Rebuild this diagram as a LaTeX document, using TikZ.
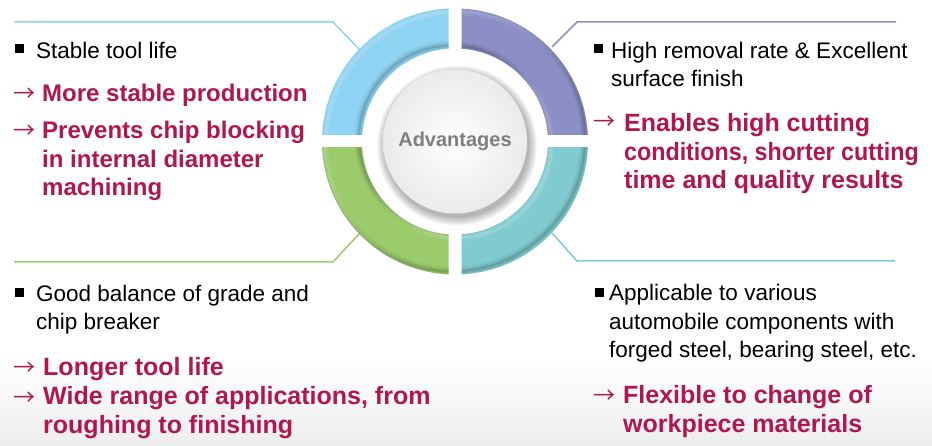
\documentclass[tikz,border=0pt]{standalone}
\usepackage{fontspec}
\setmainfont{Liberation Sans}
\newfontfamily\cjkarrow{Noto Sans CJK KR}
\definecolor{cblue}{HTML}{8ED3F2}
\definecolor{cpurple}{HTML}{8B8FC6}
\definecolor{cgreen}{HTML}{9BCB6B}
\definecolor{cteal}{HTML}{80CBCF}
\definecolor{cred}{HTML}{B0174E}
\definecolor{cgrey}{HTML}{7F7F7F}
\newcommand\ringseg[2]{%
  \begin{scope}
    \clip #1;
    \begin{scope}[even odd rule]
    \clip (C) circle (133) (C) circle (93);
    \fill[#2] (C) circle (134);
    \foreach \w/\o in {2/0.10,5/0.07,9/0.05}
      \draw[black,opacity=\o,line width=\w pt] ([shift={(-3,-3)}]C) circle (133)
            ([shift={(-3,-3)}]C) circle (93);
    \foreach \w/\o in {3/0.10,7/0.07}
      \draw[white,opacity=\o,line width=\w pt] ([shift={(3,3)}]C) circle (133)
            ([shift={(3,3)}]C) circle (93);
    \end{scope}
  \end{scope}}
\begin{document}
\begin{tikzpicture}[x=1pt,y=-1pt,
  blk/.style={font=\fontsize{22.5}{28.5}\selectfont, anchor=base west, inner sep=0pt, align=left},
  redt/.style={font=\bfseries\fontsize{25}{28.5}\selectfont, text=cred, anchor=base west, inner sep=0pt, align=left},
  redts/.style={redt, font=\bfseries\fontsize{24}{28.5}\selectfont},
  arr/.style={font=\cjkarrow\fontsize{22}{28}\selectfont, text=cred, anchor=base west, inner sep=0pt},
  bul/.style={fill=black, minimum size=9pt, inner sep=0pt},
  conn/.style={line width=1.5pt}]
\useasboundingbox (0,0) rectangle (932,446);
\fill[white] (0,0) rectangle (932,446);
\shade[top color=white, bottom color=black!7] (0,360) rectangle (932,446);
\coordinate (C) at (455,141.5);
% connectors
\coordinate (tl0) at (14,22);  \coordinate (tl1) at (333,22);  \coordinate (tl2) at (360,50);
\coordinate (tr0) at (896,22); \coordinate (tr1) at (577,22);  \coordinate (tr2) at (552,47);
\coordinate (bl0) at (14,262); \coordinate (bl1) at (333,262); \coordinate (bl2) at (360,233);
\coordinate (br0) at (895,261);\coordinate (br1) at (577,261); \coordinate (br2) at (552,233);
\draw[conn,cblue] (tl0) -- (tl1) -- (tl2);
\draw[conn,cpurple] (tr0) -- (tr1) -- (tr2);
\draw[conn,cgreen] (bl0) -- (bl1) -- (bl2);
\draw[conn,cteal] (br0) -- (br1) -- (br2);
% ring
\ringseg{(0,0) rectangle (448.5,135)}{cblue}
\ringseg{(461.5,0) rectangle (932,135)}{cpurple}
\ringseg{(0,148) rectangle (448.5,446)}{cgreen}
\ringseg{(461.5,148) rectangle (932,446)}{cteal}
% centre disk
\foreach \i in {0,...,9}
  \fill[black,opacity=0.03] ([shift={(2,4)}]C) circle ({72+\i*0.9});
\shade[inner color=white, outer color=black!8] (C) circle (72);
\node[font=\bfseries\fontsize{20}{24}\selectfont, text=cgrey] (adv) at (C) {Advantages};
% top left
\node[bul] (b1) at (19,49) {};
\node[blk] (t1) at (36,59) {Stable tool life};
\node[arr] (a1) at (13,102) {→};
\node[redts] (r1) at (42,102) {More stable production};
\node[arr] (a2) at (13,139) {→};
\node[redts] (r2) at (42,196) {Prevents chip blocking\\in internal diameter\\machining};
% top right
\node[bul] (b2) at (598.5,49) {};
\node[blk] (t2) at (611,87) {High removal rate \& Excellent\\surface finish};
\node[arr] (a3) at (593,130) {→};
\node[redt] (r3) at (624,189) {Enables high cutting\\{\addfontfeature{FakeStretch=0.93}conditions, shorter cutting}\\time and quality results};
% bottom left
\node[bul] (b3) at (19,292.5) {};
\node[blk] (t3) at (36,330) {Good balance of grade and\\chip breaker};
\node[arr] (a4) at (13,375) {→};
\node[redt] (r4) at (43,375) {Longer tool life};
\node[arr] (a5) at (13,405) {→};
\node[redt] (r5) at (43,433) {Wide range of applications, from\\roughing to finishing};
% bottom right
\node[bul] (b4) at (599,293) {};
\node[blk] (t4) at (609,358) {Applicable to various\\automobile components with\\forged steel, bearing steel, etc.};
\node[arr] (a6) at (593,403) {→};
\node[redt] (r6) at (623,432) {Flexible to change of\\workpiece materials};
\end{tikzpicture}
\end{document}
